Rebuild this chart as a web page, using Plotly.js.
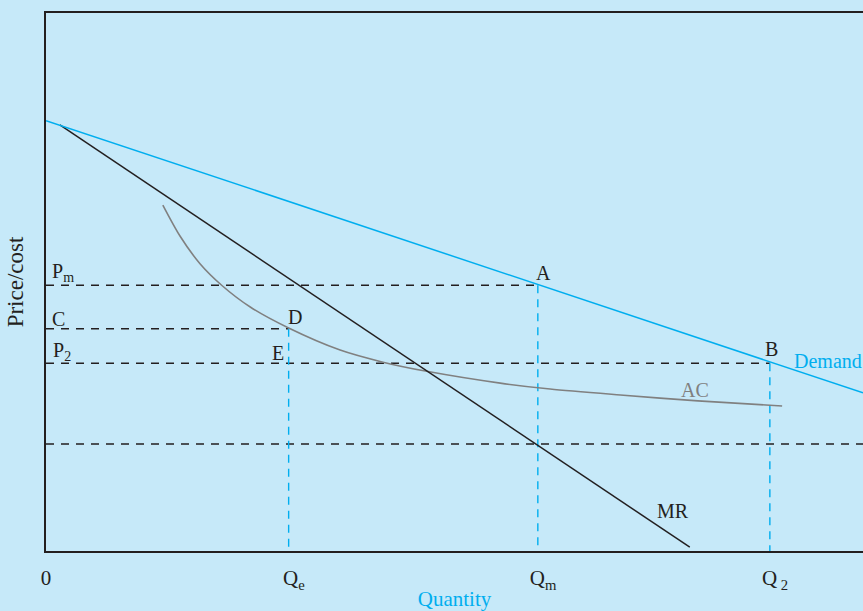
<!DOCTYPE html>
<html>
<head>
<meta charset="utf-8">
<script src="https://cdn.plot.ly/plotly-3.0.1.min.js"></script>
<style>html,body{margin:0;padding:0;background:#c6e9f9;}</style>
</head>
<body>
<div id="chart" style="width:863px;height:611px;"></div>
<script>
// Demand curve
const demandQ = [0, 100];
const demandP = [80, 29.4];
// Marginal revenue
const mrQ = [1.7, 78.8];
const mrP = [79.2, 0.7];
// Average cost curve
const acQ = [14.3, 16.4, 18.85, 21.5, 25.0, 29.7, 36.0, 41.25, 46.6, 55.6, 61.7, 70.3, 79.8, 90.1];
const acP = [64.3, 58.55, 53.4, 49.4, 45.35, 41.45, 37.35, 35.1, 33.4, 31.2, 30.1, 29.0, 27.9, 26.95];
// Key quantities and prices
const Qe = 29.7, Qm = 60.2, Q2 = 88.6;
const Pm = 49.4, C = 41.3, P2 = 34.9, lowLevel = 19.9;
const xMax = 100, yMax = 100;
const tickVals = [0, Qe, Qm, Q2];
const tickText = ['0', '\u00a0\u00a0Q<sub>e</sub>', '\u00a0\u00a0Q<sub>m</sub>', '\u00a0\u00a0Q<sub>\u00a02</sub>'];
// Point labels
const labelText = ['P<sub>m</sub>', 'C', 'P<sub>2</sub>', 'A', 'D', 'E', 'B', 'Demand', 'AC', 'MR'];

const dark = '#231f20', blue = '#00aeef', gray = '#808080';
const FAM = 'Liberation Serif, Times New Roman, serif';
const f = (c, s) => ({family: FAM, size: s || 20, color: c || dark});

// label placement (layout)
const labelX = [2.14, 1.59, 1.96, Qm + 0.75, Qe + 0.78, Qe - 1.3, Q2 + 0.14, 95.72, 79.44, 76.74];
const labelY = [Pm + 2.45, C + 1.8, P2 + 2.25, Pm + 2.25, C + 2.2, P2 + 1.9, P2 + 2.65, 35.32, 29.93, 7.43];
const labelColor = [dark, dark, dark, dark, dark, dark, dark, blue, gray, dark];

// horizontal dashed guides (black) and vertical dashed guides (blue), joined with gaps
const hx = [0, Qm, null, 0, Qe, null, 0, Q2, null, 0, xMax];
const hy = [Pm, Pm, null, C, C, null, P2, P2, null, lowLevel, lowLevel];
const vx = [Qe, Qe, null, Qm, Qm, null, Q2, Q2];
const vy = [C, 0, null, Pm, 0, null, P2, 0];

const traces = [
  {x: hx, y: hy, mode: 'lines', connectgaps: false, hoverinfo: 'skip', line: {color: dark, width: 1.4, dash: '8px,7px'}},
  {x: vx, y: vy, mode: 'lines', connectgaps: false, hoverinfo: 'skip', line: {color: blue, width: 1.4, dash: '8px,6px'}},
  {x: acQ, y: acP, mode: 'lines', hoverinfo: 'skip', line: {color: gray, width: 1.6, shape: 'spline', smoothing: 0.8}},
  {x: mrQ, y: mrP, mode: 'lines', hoverinfo: 'skip', line: {color: dark, width: 1.5}},
  {x: demandQ, y: demandP, mode: 'lines', hoverinfo: 'skip', line: {color: blue, width: 1.5}}
];

const annotations = labelText.map((t, i) => ({
  x: labelX[i], y: labelY[i], xref: 'x', yref: 'y', text: t, showarrow: false,
  xanchor: 'center', yanchor: 'middle',
  font: f(labelColor[i], 20)
}));

const layout = {
  width: 863, height: 611,
  margin: {l: 46, r: 0, t: 13, b: 60, pad: 0},
  paper_bgcolor: '#c6e9f9', plot_bgcolor: '#c6e9f9',
  showlegend: false,
  font: f(),
  xaxis: {
    range: [0, xMax], showgrid: false, zeroline: false,
    showline: true, linecolor: dark, linewidth: 1.8, mirror: true,
    tickvals: tickVals, ticktext: tickText, ticks: '', ticklabelstandoff: 7,
    tickfont: f(dark, 21),
    title: {text: 'Quantity', font: f(blue, 21), standoff: 4}
  },
  yaxis: {
    range: [0, yMax], showgrid: false, zeroline: false,
    showline: true, linecolor: dark, linewidth: 1.8,
    showticklabels: false, ticks: '',
    title: {text: 'Price/cost', font: f(dark, 23), standoff: 14}
  },
  annotations: annotations
};

Plotly.newPlot('chart', traces, layout, {displayModeBar: false});
</script>
</body>
</html>
